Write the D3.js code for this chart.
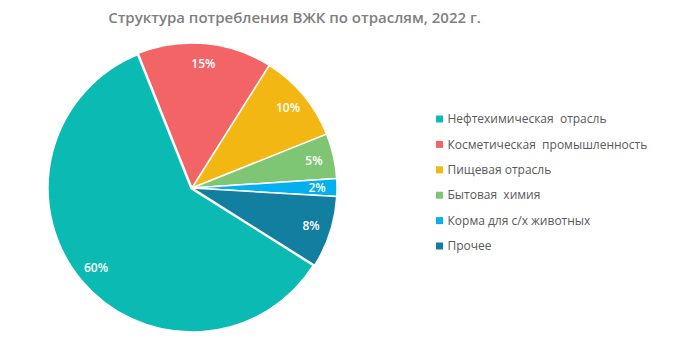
<!DOCTYPE html>
<html><head><meta charset="utf-8">
<script src="https://cdn.jsdelivr.net/npm/d3@7"></script>
<style>body{margin:0;background:#fff}text{font-family:"Open Sans",sans-serif}</style>
</head><body><svg id="c" width="680" height="364"></svg>
<script>
const categories = ["Нефтехимическая  отрасль","Косметическая  промышленность","Пищевая отрасль","Бытовая  химия","Корма для с/х животных","Прочее"];
const values = [60,15,10,5,2,8];
const labels = ["60%","15%","10%","5%","2%","8%"];
const colors = ["#0BBBB3","#F26465","#F2B712","#7EC674","#03B0EF","#127EA0"];
const title = "Структура потребления ВЖК по отраслям, 2022 г.";

const svg = d3.select("#c");
svg.append("text").attr("x",294.5).attr("y",23).attr("text-anchor","middle")
  .attr("font-size",15).attr("font-weight",600).attr("fill","#808080").text(title);

const cx=192, cy=188, R=145;
const start = 122.2*Math.PI/180;
const pie = d3.pie().sort(null).startAngle(start).endAngle(start+2*Math.PI);
const arcs = pie(values);
const arc = d3.arc().innerRadius(0).outerRadius(R);
const g = svg.append("g").attr("transform",`translate(${cx},${cy})`);
g.selectAll("path").data(arcs).enter().append("path")
  .attr("d",arc).attr("fill",(d,i)=>colors[i])
  .attr("stroke","#fff").attr("stroke-width",(d,i)=>i===0?3.5:1.5).attr("stroke-linejoin","round");
const la = d3.arc().innerRadius(125).outerRadius(125);
g.selectAll("text").data(arcs).enter().append("text")
  .attr("transform",d=>`translate(${la.centroid(d)})`)
  .attr("text-anchor","middle").attr("dy","0.35em")
  .attr("font-size",12).attr("font-weight",600).attr("fill","#fff")
  .text((d,i)=>labels[i]);

const y = d3.scalePoint().domain(d3.range(categories.length)).range([119,246]);
const lg = svg.append("g");
categories.forEach((c,i)=>{
  lg.append("rect").attr("x",436).attr("y",y(i)-3.5).attr("width",7).attr("height",7).attr("fill",colors[i]);
  lg.append("text").attr("x",447.5).attr("y",y(i)).attr("dy","0.35em").attr("font-size",12)
    .attr("fill","#595959").style("white-space","pre").text(c);
});
</script></body></html>
